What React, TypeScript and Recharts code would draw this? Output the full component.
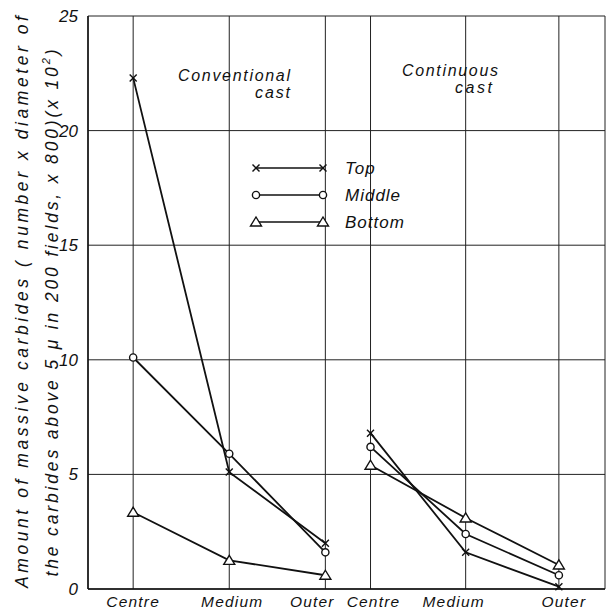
import React from 'react';
import { LineChart, Line, XAxis, YAxis, CartesianGrid } from 'recharts';

const categories = ['Centre', 'Medium', 'Outer', 'Centre', 'Medium', 'Outer'];
const stations = [1, 2, 3, 3.47, 4.46, 5.43];
const groups = [[0, 1, 2], [3, 4, 5]];
const topVals = [22.3, 5.1, 2.0, 6.8, 1.6, 0.1];
const middleVals = [10.1, 5.9, 1.6, 6.2, 2.4, 0.6];
const bottomVals = [3.35, 1.25, 0.6, 5.4, 3.1, 1.05];
const yTicks = [0, 5, 10, 15, 20, 25];

const FONT = '"Liberation Sans", Arial, sans-serif';
const INK = '#111';
// horizontal nudges of the category labels, as hand-lettered in the original
const LABEL_NUDGE = [0, 3, -13, 3, -12, 5];

type Shape = 'x' | 'o' | 't';

const Marker = ({ cx, cy, shape }: { cx: number; cy: number; shape: Shape }) => {
  if (cx == null || cy == null || isNaN(cx) || isNaN(cy)) return null;
  if (shape === 'x') {
    const s = 3.5;
    return (
      <g stroke={INK} strokeWidth={1.4}>
        <line x1={cx - s} y1={cy - s} x2={cx + s} y2={cy + s} />
        <line x1={cx - s} y1={cy + s} x2={cx + s} y2={cy - s} />
      </g>
    );
  }
  if (shape === 'o') {
    return <circle cx={cx} cy={cy} r={3.6} fill="#fff" stroke={INK} strokeWidth={1.4} />;
  }
  return (
    <polygon
      points={`${cx},${cy - 5} ${cx - 5.5},${cy + 4} ${cx + 5.5},${cy + 4}`}
      fill="#fff"
      stroke={INK}
      strokeWidth={1.4}
    />
  );
};

const series: { name: string; vals: number[]; shape: Shape }[] = [
  { name: 'Top', vals: topVals, shape: 'x' },
  { name: 'Middle', vals: middleVals, shape: 'o' },
  { name: 'Bottom', vals: bottomVals, shape: 't' },
];

const XTick = (props: any) => {
  const { x, y, payload } = props;
  const i = stations.indexOf(payload.value);
  if (i < 0) return null;
  return (
    <text x={x + LABEL_NUDGE[i]} y={y + 10} textAnchor="middle" fontFamily={FONT} fontStyle="italic" fontSize={15.5} letterSpacing={1.2} fill={INK}>
      {categories[i]}
    </text>
  );
};

const YTick = (props: any) => {
  const { x, y, payload } = props;
  return (
    <text x={x - 2} y={y + 6} textAnchor="end" fontFamily={FONT} fontStyle="italic" fontSize={17} fill={INK}>
      {payload.value}
    </text>
  );
};

export default function App() {
  return (
    <div style={{ position: 'absolute', left: 0, top: 0, width: 615, height: 612, background: '#fff' }}>
      <LineChart width={615} height={612} margin={{ top: 16, right: 10, left: 0, bottom: 0 }}>
        <CartesianGrid stroke="#222" strokeWidth={1} yAxisId="l" />
        <XAxis
          type="number"
          dataKey="x"
          domain={[0.53, 5.91]}
          ticks={stations}
          tick={<XTick />}
          tickLine={false}
          axisLine={{ stroke: INK, strokeWidth: 1.5 }}
          height={23}
          allowDuplicatedCategory={false}
        />
        <YAxis
          yAxisId="l"
          domain={[0, 25]}
          ticks={yTicks}
          tick={<YTick />}
          tickLine={false}
          axisLine={{ stroke: INK, strokeWidth: 1.5 }}
          width={88}
        />
        <YAxis
          yAxisId="r"
          orientation="right"
          domain={[0, 25]}
          tick={false}
          tickLine={false}
          axisLine={{ stroke: INK, strokeWidth: 1.5 }}
          width={0}
        />
        {series.map((s) =>
          groups.map((g, gi) => (
            <Line
              key={`${s.name}-${gi}`}
              yAxisId="l"
              data={g.map((i) => ({ x: stations[i], v: s.vals[i] }))}
              dataKey="v"
              type="linear"
              stroke={INK}
              strokeWidth={1.8}
              isAnimationActive={false}
              dot={(p: any) => <Marker key={`${s.name}-${gi}-${p.index}`} cx={p.cx} cy={p.cy} shape={s.shape} />}
              activeDot={false}
              legendType="none"
            />
          ))
        )}
      </LineChart>
      <svg width={615} height={612} style={{ position: 'absolute', left: 0, top: 0, pointerEvents: 'none' }}>
        <g fontFamily={FONT} fontStyle="italic" fill={INK}>
          <text x={22} y={302} transform="rotate(-90 22 302)" textAnchor="middle" dominantBaseline="central" fontSize={17.5} textLength={572} lengthAdjust="spacing">
            Amount of massive carbides ( number x diameter of
          </text>
          <text x={52} y={313} transform="rotate(-90 52 313)" textAnchor="middle" dominantBaseline="central" fontSize={17.5} textLength={527} lengthAdjust="spacing">
            the carbides above 5 μ in 200 fields, x 800)(x 10<tspan dy={-6} fontSize={11}>2</tspan><tspan dy={6}>)</tspan>
          </text>
          <text x={178} y={81} fontSize={16} textLength={112} lengthAdjust="spacing">Conventional</text>
          <text x={255} y={98} fontSize={16} textLength={35} lengthAdjust="spacing">cast</text>
          <text x={402} y={76} fontSize={16} textLength={96} lengthAdjust="spacing">Continuous</text>
          <text x={455} y={93} fontSize={16} textLength={37} lengthAdjust="spacing">cast</text>
          {series.map((s, i) => {
            const y = 168 + i * 27;
            return (
              <g key={s.name}>
                <line x1={256} y1={y} x2={323} y2={y} stroke={INK} strokeWidth={1.3} />
                <Marker cx={256} cy={y} shape={s.shape} />
                <Marker cx={323} cy={y} shape={s.shape} />
                <text x={345} y={y + 6} fontSize={17} letterSpacing={1}>{s.name}</text>
              </g>
            );
          })}
        </g>
      </svg>
    </div>
  );
}
